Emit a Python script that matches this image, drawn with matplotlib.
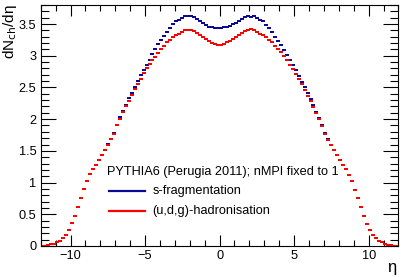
import numpy as np
import matplotlib
matplotlib.use('Agg')
import matplotlib.pyplot as plt
from matplotlib.lines import Line2D
from matplotlib.ticker import MultipleLocator

plt.rcParams['font.family'] = ['Liberation Sans', 'DejaVu Sans']

# eta bins, width 0.2 from -12 to 12
eta_edges = np.linspace(-12, 12, 121)
eta = 0.5*(eta_edges[1:] + eta_edges[:-1])

# s-fragmentation
dn_s = [0.003, 0.007, 0.013, 0.024, 0.038, 0.058, 0.085, 0.125, 0.18, 0.255,
        0.36, 0.48, 0.62, 0.76, 0.90, 1.03, 1.13, 1.21, 1.28, 1.36,
        1.44, 1.52, 1.61, 1.69, 1.78, 1.91, 2.03, 2.13, 2.23, 2.33,
        2.42, 2.51, 2.60, 2.69, 2.78, 2.86, 2.94, 3.02, 3.10, 3.18,
        3.25, 3.31, 3.38, 3.44, 3.50, 3.54, 3.57, 3.59, 3.62, 3.63,
        3.63, 3.61, 3.58, 3.55, 3.51, 3.48, 3.46, 3.45, 3.44, 3.435,
        3.44, 3.45, 3.46, 3.47, 3.50, 3.51, 3.54, 3.58, 3.61, 3.63,
        3.61, 3.63, 3.59, 3.57, 3.54, 3.49, 3.44, 3.37, 3.30, 3.24,
        3.17, 3.09, 3.01, 2.93, 2.85, 2.77, 2.68, 2.59, 2.50, 2.41,
        2.32, 2.22, 2.12, 2.02, 1.90, 1.78, 1.68, 1.59, 1.51, 1.43,
        1.35, 1.28, 1.21, 1.12, 1.02, 0.89, 0.75, 0.61, 0.47, 0.35,
        0.25, 0.175, 0.12, 0.082, 0.056, 0.036, 0.022, 0.012, 0.006, 0.002]

# (u,d,g)-hadronisation
dn_udg = [0.003, 0.007, 0.013, 0.024, 0.038, 0.058, 0.085, 0.125, 0.18, 0.255,
          0.36, 0.48, 0.62, 0.76, 0.90, 1.03, 1.13, 1.21, 1.28, 1.36,
          1.44, 1.52, 1.60, 1.68, 1.77, 1.90, 2.01, 2.11, 2.20, 2.29,
          2.38, 2.47, 2.56, 2.64, 2.72, 2.80, 2.87, 2.93, 2.98, 3.05,
          3.11, 3.16, 3.21, 3.25, 3.29, 3.32, 3.35, 3.38, 3.40, 3.41,
          3.41, 3.39, 3.36, 3.33, 3.30, 3.26, 3.23, 3.20, 3.19, 3.17,
          3.17, 3.19, 3.21, 3.23, 3.26, 3.29, 3.33, 3.36, 3.39, 3.41,
          3.42, 3.41, 3.38, 3.35, 3.32, 3.29, 3.25, 3.21, 3.16, 3.11,
          3.06, 2.99, 2.93, 2.86, 2.79, 2.71, 2.63, 2.55, 2.46, 2.37,
          2.28, 2.19, 2.10, 2.00, 1.89, 1.77, 1.67, 1.59, 1.51, 1.43,
          1.35, 1.28, 1.21, 1.12, 1.02, 0.89, 0.75, 0.61, 0.47, 0.35,
          0.25, 0.175, 0.12, 0.082, 0.056, 0.036, 0.022, 0.012, 0.006, 0.002]

blue = '#0a0a96'
red = '#ff0000'
rect = [(-1.5, -1), (1.5, -1), (1.5, 1), (-1.5, 1), (-1.5, -1)]

fig = plt.figure(figsize=(4.07, 2.77), dpi=100)
ax = fig.add_axes([0.1, 0.112, 0.879, 0.870])

ax.plot(eta, dn_s, ls='None', marker=rect, ms=3.2, mew=0, color=blue)
ax.plot(eta, dn_udg, ls='None', marker=rect, ms=3.2, mew=0, color=red)

ax.set_xlim(-12, 12)
ax.set_ylim(0, 3.8)
ax.xaxis.set_major_locator(MultipleLocator(5))
ax.xaxis.set_minor_locator(MultipleLocator(1))
ax.yaxis.set_major_locator(MultipleLocator(0.5))
ax.yaxis.set_minor_locator(MultipleLocator(0.1))
ax.yaxis.set_major_formatter(plt.FuncFormatter(lambda v, p: '%g' % v))
ax.tick_params(which='both', direction='in', top=True, right=True, width=0.8,
               labelsize=9.2, pad=3)
ax.tick_params(axis='x', which='major', length=8)
ax.tick_params(axis='x', which='minor', length=4)
ax.tick_params(axis='y', which='major', length=11)
ax.tick_params(axis='y', which='minor', length=5.5)
for s in ax.spines.values():
    s.set_linewidth(0.8)

fig.text(0.975, 0.035, '\u03b7', fontsize=12, ha='right', va='center')
fig.text(0.024, 0.985, 'dN$_{\\rm ch}$/d\u03b7', fontsize=11, rotation=90,
         ha='center', va='top')

# legend
fig.text(106.7/407, 1-172/277, 'PYTHIA6 (Perugia 2011); nMPI fixed to 1',
         fontsize=9.2, va='center')
fig.add_artist(Line2D([109/407, 145/407], [1-191/277, 1-191/277], color=blue, lw=1.6))
fig.add_artist(Line2D([109/407, 145/407], [1-211/277, 1-211/277], color=red, lw=1.6))
fig.text(152.7/407, 1-191/277, 's-fragmentation', fontsize=9.2, va='center')
fig.text(152.7/407, 1-211/277, '(u,d,g)-hadronisation', fontsize=9.2, va='center')

fig.savefig('out.png', dpi=100)
